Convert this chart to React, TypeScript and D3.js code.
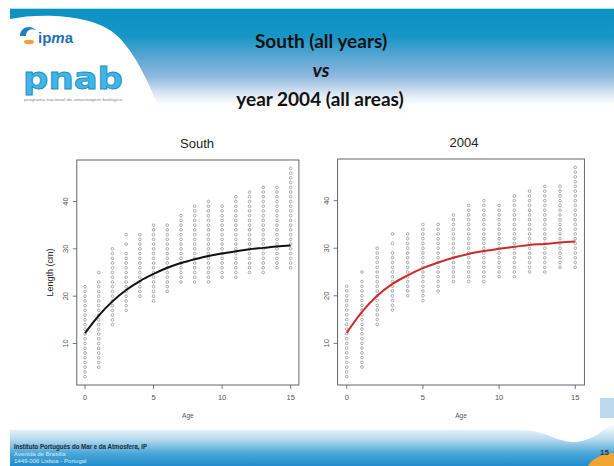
import React from "react";
import * as d3 from "d3";

// observed lengths (cm) at each age, one circle per cm class
const ages = [0, 1, 2, 3, 4, 5, 6, 7, 8, 9, 10, 11, 12, 13, 14, 15];
const observedLengths: number[][] = [
  [3, 4, 5, 6, 7, 8, 9, 10, 11, 12, 13, 14, 15, 16, 17, 18, 19, 20, 21, 22],
  [5, 6, 7, 8, 9, 10, 11, 12, 13, 14, 15, 16, 17, 18, 19, 20, 21, 22, 23, 25],
  [14, 15, 16, 17, 18, 19, 20, 21, 22, 23, 24, 25, 26, 27, 28, 29, 30],
  [17, 18, 19, 20, 21, 22, 23, 24, 25, 26, 27, 28, 29, 31, 33],
  [20, 21, 22, 23, 24, 25, 26, 27, 28, 29, 30, 31, 32, 33],
  [19, 20, 21, 22, 23, 24, 25, 26, 27, 28, 29, 30, 31, 32, 33, 34, 35],
  [21, 22, 23, 24, 25, 26, 27, 28, 29, 30, 31, 32, 33, 34, 35],
  [23, 24, 25, 26, 27, 28, 29, 30, 31, 32, 33, 34, 35, 36, 37],
  [23, 24, 25, 26, 27, 28, 29, 30, 31, 32, 33, 34, 35, 36, 37, 38, 39],
  [23, 24, 25, 26, 27, 28, 29, 30, 31, 32, 33, 34, 35, 36, 37, 38, 39, 40],
  [24, 25, 26, 27, 28, 29, 30, 31, 32, 33, 34, 35, 36, 37, 38, 39],
  [24, 25, 26, 27, 28, 29, 30, 31, 32, 33, 34, 35, 36, 37, 38, 39, 40, 41],
  [25, 26, 27, 28, 29, 30, 31, 32, 33, 34, 35, 36, 37, 38, 39, 40, 41, 42],
  [25, 26, 27, 28, 29, 30, 31, 32, 33, 34, 35, 36, 37, 38, 39, 40, 41, 42, 43],
  [26, 27, 28, 29, 30, 31, 32, 33, 34, 35, 36, 37, 38, 39, 40, 41, 42, 43],
  [26, 27, 28, 29, 30, 31, 32, 33, 34, 35, 36, 37, 38, 39, 40, 41, 42, 43, 44, 45, 46, 47],
];

// fitted growth curves
const southFit = [12.2, 15.9, 18.9, 21.3, 23.2, 24.7, 26.0, 27.0, 27.8, 28.5, 29.0, 29.5, 29.9, 30.2, 30.5, 30.7];
const year2004Fit = [12.2, 16.6, 20.0, 22.5, 24.3, 25.8, 27.0, 28.0, 28.8, 29.4, 29.9, 30.3, 30.7, 30.9, 31.2, 31.4];

const xTicks = [0, 5, 10, 15];
const yTicks = [10, 20, 30, 40];

const headerLines = ["South (all years)", "vs", "year 2004 (all areas)"];
const footerLines = ["Instituto Português do Mar e da Atmosfera, IP", "Avenida de Brasília", "1449-006 Lisboa - Portugal"];

const plotFont = "'Liberation Sans', Arial, sans-serif";

interface PanelProps {
  title: string;
  titleX: number;
  left: number;
  right: number;
  top: number;
  bottom: number;
  fit: number[];
  color: string;
  yLabel?: string;
}

const Panel: React.FC<PanelProps> = ({ title, titleX, left, right, top, bottom, fit, color, yLabel }) => {
  const x = d3.scaleLinear().domain([-0.6, 15.6]).range([left, right]);
  const y = d3.scaleLinear().domain([1.24, 48.76]).range([bottom, top]);

  const line = d3
    .line<number>()
    .x((d, i) => x(ages[i]))
    .y((d) => y(d))
    .curve(d3.curveMonotoneX);

  return (
    <g fontFamily={plotFont}>
      <text x={titleX} y={top - 12} textAnchor="middle" fontSize={13} fill="#222">
        {title}
      </text>
      <rect x={left} y={top} width={right - left} height={bottom - top} fill="white" stroke="#555" strokeWidth={0.9} />

      {observedLengths.map((lens, i) =>
        lens.map((l) => (
          <circle key={`${i}-${l}`} cx={x(ages[i])} cy={y(l)} r={1.35} fill="none" stroke="#7a7a7a" strokeWidth={0.6} />
        ))
      )}

      <path d={line(fit) || ""} fill="none" stroke={color} strokeWidth={2} />

      {xTicks.map((t) => (
        <g key={`x${t}`}>
          <line x1={x(t)} x2={x(t)} y1={bottom} y2={bottom + 4} stroke="#555" strokeWidth={0.8} />
          <text x={x(t)} y={bottom + 15} textAnchor="middle" fontSize={7.5} fill="#555">
            {t}
          </text>
        </g>
      ))}
      {yTicks.map((t) => (
        <g key={`y${t}`}>
          <line x1={left - 4} x2={left} y1={y(t)} y2={y(t)} stroke="#555" strokeWidth={0.8} />
          <text
            transform={`translate(${left - 9},${y(t)}) rotate(-90)`}
            textAnchor="middle"
            fontSize={7.5}
            fill="#555"
          >
            {t}
          </text>
        </g>
      ))}

      <text x={(left + right) / 2} y={bottom + 33} textAnchor="middle" fontSize={6.5} fill="#555">
        Age
      </text>
      {yLabel && (
        <text
          transform={`translate(${left - 24},${(top + bottom) / 2}) rotate(-90)`}
          textAnchor="middle"
          fontSize={9}
          fill="#222"
        >
          {yLabel}
        </text>
      )}
    </g>
  );
};

export default function App() {
  return (
    <svg width={614} height={466} style={{ position: "absolute", left: 0, top: 0 }}>
      <defs>
        <linearGradient id="hdr" x1="0" y1="0" x2="0" y2="1">
          <stop offset="0" stopColor="#0d91c3" />
          <stop offset="0.28" stopColor="#1596c6" />
          <stop offset="0.5" stopColor="#5aa6d3" />
          <stop offset="0.7" stopColor="#8db8dd" />
          <stop offset="0.88" stopColor="#dbe6f4" />
          <stop offset="1" stopColor="#ffffff" />
        </linearGradient>
        <linearGradient id="ftr" x1="0" y1="0" x2="0" y2="1">
          <stop offset="0" stopColor="#ffffff" />
          <stop offset="0.35" stopColor="#bcdcef" />
          <stop offset="0.7" stopColor="#4aa6d8" />
          <stop offset="1" stopColor="#1f8ccb" />
        </linearGradient>
      </defs>
      <rect width={614} height={466} fill="white" />

      {/* header band */}
      <rect x={10} y={8} width={604} height={1.2} fill="#a9e4ef" />
      <rect x={10} y={9} width={604} height={96} fill="url(#hdr)" />
      <path d="M10,19 C40,13 90,14 114,33 C134,50 146,78 158,105 L10,105 Z" fill="white" />

      {/* logos */}
      <path d="M20,36 C20,27 30,24 36,30 C31,28 26,30 26,36 Z" fill="#1f7fc0" />
      <ellipse cx={29} cy={42} rx={5} ry={2.2} fill="#f0a23a" />
      <text x={38} y={43} fontFamily="'Liberation Sans', Arial, sans-serif" fontSize={15} fontWeight="bold" fill="#1f6fb0">
        <tspan>ip</tspan>
        <tspan fontStyle="italic">m</tspan>
        <tspan>a</tspan>
      </text>
      <text
        x={23}
        y={89}
        fontFamily="'DejaVu Sans', sans-serif"
        fontSize={30}
        fontWeight="bold"
        fill="#3fb6e6"
        stroke="#1b8cc4"
        strokeWidth={0.8}
        textLength={100}
        lengthAdjust="spacingAndGlyphs"
      >
        pnab
      </text>
      <text x={24} y={101} fontFamily={plotFont} fontSize={3} fill="#888" textLength={98} lengthAdjust="spacingAndGlyphs">
        programa nacional de amostragem biológica
      </text>

      {/* slide title */}
      <g fontFamily="Lato, 'Open Sans', sans-serif" fontWeight="bold" fill="#111" textAnchor="middle">
        <text x={321} y={48} fontSize={19}>
          {headerLines[0]}
        </text>
        <text x={321} y={77} fontSize={19} fontStyle="italic">
          {headerLines[1]}
        </text>
        <text x={320} y={106} fontSize={19}>
          {headerLines[2]}
        </text>
      </g>

      <Panel title="South" titleX={197} left={76.8} right={298.9} top={160} bottom={385} fit={southFit} color="#111" yLabel="Length (cm)" />
      <Panel title="2004" titleX={464} left={337.6} right={584.4} top={159} bottom={385} fit={year2004Fit} color="#cc2b2b" />

      {/* footer band */}
      <rect x={600} y={398} width={14} height={20} fill="#bcd9ee" />
      <path d="M10,430 L520,430 C548,430 560,446 582,441 C598,437 604,428 614,424 L614,466 L10,466 Z" fill="url(#ftr)" />
      <path d="M588,466 C592,458 602,454 614,453 L614,466 Z" fill="#f0a431" />
      <g fontFamily={plotFont}>
        <text x={14} y={449} fontSize={6.5} fontWeight="bold" fill="#1b2a3a" textLength={133} lengthAdjust="spacingAndGlyphs">
          {footerLines[0]}
        </text>
        <text x={14} y={456} fontSize={6} fill="#d7ecf7">
          {footerLines[1]}
        </text>
        <text x={14} y={463} fontSize={6} fill="#d7ecf7">
          {footerLines[2]}
        </text>
        <text x={600} y={455} fontSize={8} fontWeight="bold" fill="#333">
          15
        </text>
      </g>
    </svg>
  );
}
